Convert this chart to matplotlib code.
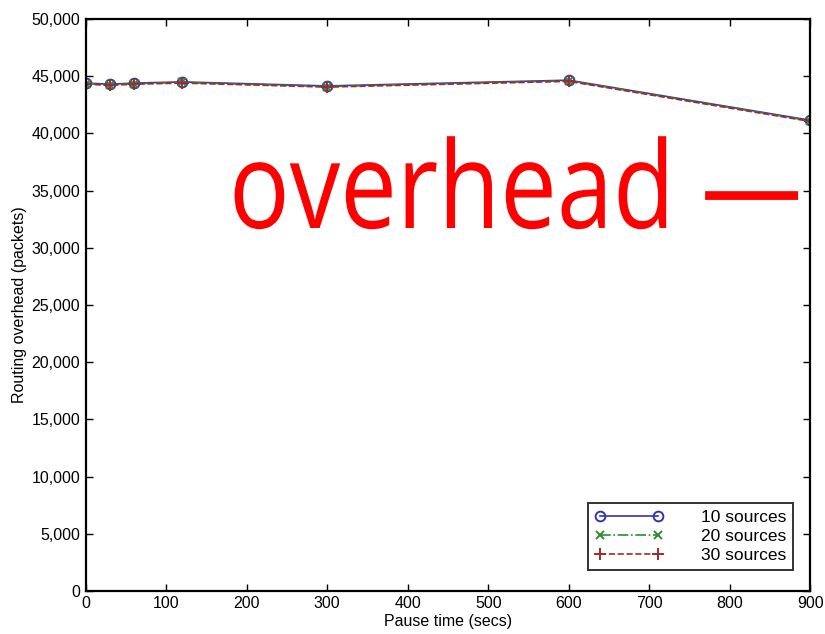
import numpy as np
import matplotlib.pyplot as plt
from matplotlib.patheffects import AbstractPathEffect
from matplotlib.transforms import Affine2D

# Routing overhead vs pause time
pause = [0, 30, 60, 120, 300, 600, 900]
src10 = [44400, 44300, 44400, 44500, 44150, 44650, 41150]
src20 = [44350, 44250, 44350, 44450, 44100, 44600, 41100]
src30 = [44300, 44200, 44300, 44400, 44050, 44550, 41050]
labels = ["10 sources", "20 sources", "30 sources"]


class Squeeze(AbstractPathEffect):
    """Scale the glyphs horizontally about a fixed x (display pixels)."""
    def __init__(self, sx, x0):
        super().__init__()
        self.sx, self.x0 = sx, x0

    def draw_path(self, renderer, gc, tpath, affine, rgbFace=None):
        sq = Affine2D().translate(-self.x0, 0).scale(self.sx, 1).translate(self.x0, 0)
        renderer.draw_path(gc, tpath, affine + sq, rgbFace)


plt.rcParams['font.family'] = ['Liberation Sans', 'DejaVu Sans']

fig = plt.figure(figsize=(8.25, 6.34), dpi=100)
ax = fig.add_axes([0.104, 0.068, 0.878, 0.902])

ax.plot(pause, src10, '-', color='#3434b0', lw=1.2, marker='o', ms=7,
        mfc='none', mew=1.4, label=labels[0])
ax.plot(pause, src20, '-.', color='#2e8b2e', lw=1.2, marker='x', ms=6,
        mew=1.4, label=labels[1])
ax.plot(pause, src30, '--', color='#a82828', lw=1.2, marker='+', ms=8,
        mew=1.4, label=labels[2])

ax.set_xlim(0, 900)
ax.set_ylim(0, 50000)
ax.set_xticks(np.arange(0, 901, 100))
ax.set_yticks(np.arange(0, 50001, 5000))
ax.set_yticklabels(["{:,}".format(v) if v else "0" for v in range(0, 50001, 5000)])
ax.tick_params(direction='in', top=True, right=True, labelsize=11.5, length=5,
               width=1.0, pad=4)
for s in ax.spines.values():
    s.set_linewidth(1.6)

ax.set_xlabel("Pause time (secs)", fontsize=11.5, labelpad=2)
ax.set_ylabel("Routing overhead (packets)", fontsize=11.5, labelpad=3)

leg = ax.legend(loc='lower right', fontsize=12.5, numpoints=2, handlelength=3.9,
                handletextpad=2.2, labelspacing=0.22, borderpad=0.4,
                borderaxespad=0, fancybox=False, framealpha=1,
                bbox_to_anchor=(0.977, 0.037))
leg.get_frame().set_edgecolor('#333333')
leg.get_frame().set_linewidth(1.4)

# red caption overlaid across the plot, in a narrowed face
x_cap = 229
cap = fig.text(x_cap / 825, 1 - 228 / 634, "overhead \u2014", color='red',
               fontsize=87, family=['Open Sans', 'DejaVu Sans'],
               ha='left', va='baseline')
cap.set_path_effects([Squeeze(0.836, x_cap)])

fig.savefig("out.png", dpi=100)
